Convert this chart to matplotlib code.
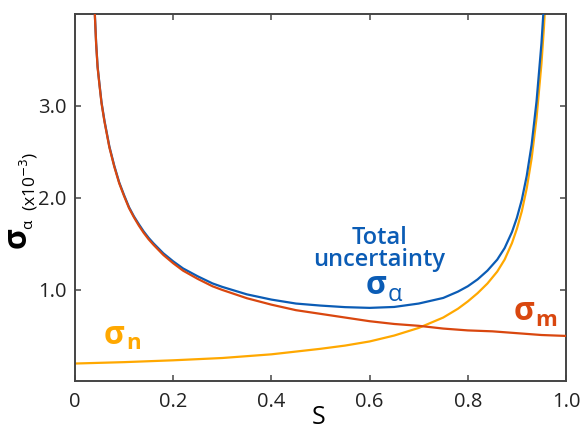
import matplotlib
matplotlib.use('Agg')
import matplotlib.pyplot as plt

plt.rcParams['font.family'] = ['Open Sans', 'DejaVu Sans']

# values (S, sigma in units of 1e-3)
s_m = [0.039, 0.041, 0.043, 0.046, 0.050, 0.054, 0.060, 0.070, 0.080, 0.090,
       0.100, 0.110, 0.120, 0.130, 0.140, 0.150, 0.160, 0.180, 0.200, 0.220,
       0.250, 0.280, 0.300, 0.350, 0.400, 0.450, 0.500, 0.550, 0.600, 0.650,
       0.700, 0.750, 0.800, 0.850, 0.900, 0.950, 1.000]
sig_m = [4.15, 3.92, 3.68, 3.42, 3.22, 3.03, 2.83, 2.55, 2.34, 2.16,
         2.02, 1.89, 1.79, 1.70, 1.62, 1.55, 1.49, 1.38, 1.29, 1.21,
         1.12, 1.04, 1.00, 0.91, 0.84, 0.78, 0.74, 0.70, 0.66, 0.63,
         0.61, 0.58, 0.56, 0.55, 0.53, 0.51, 0.50]

s_n = [0.00, 0.10, 0.20, 0.30, 0.40, 0.50, 0.55, 0.60, 0.65, 0.70,
       0.75, 0.78, 0.80, 0.82, 0.84, 0.86, 0.875, 0.89, 0.90, 0.91,
       0.92, 0.93, 0.94, 0.95, 0.955, 0.96]
sig_n = [0.20, 0.215, 0.235, 0.26, 0.30, 0.36, 0.395, 0.44, 0.504, 0.587,
         0.70, 0.796, 0.875, 0.965, 1.07, 1.20, 1.33, 1.51, 1.665, 1.855,
         2.105, 2.43, 2.87, 3.46, 3.85, 4.33]

s_tot = [0.039, 0.041, 0.043, 0.046, 0.050, 0.054, 0.060, 0.070, 0.080, 0.090,
         0.100, 0.110, 0.120, 0.130, 0.140, 0.150, 0.160, 0.180, 0.200, 0.220,
         0.250, 0.280, 0.300, 0.350, 0.400, 0.450, 0.500, 0.550, 0.600, 0.650,
         0.700, 0.750, 0.780, 0.800, 0.820, 0.840, 0.860, 0.875, 0.890, 0.900,
         0.910, 0.920, 0.930, 0.940, 0.950, 0.955]
sig_tot = [4.16, 3.93, 3.69, 3.43, 3.23, 3.04, 2.84, 2.56, 2.35, 2.17,
           2.03, 1.90, 1.80, 1.715, 1.635, 1.566, 1.506, 1.398, 1.311, 1.234,
           1.148, 1.071, 1.033, 0.952, 0.895, 0.852, 0.830, 0.813, 0.805, 0.815,
           0.852, 0.913, 0.982, 1.04, 1.115, 1.21, 1.33, 1.455, 1.63, 1.785,
           1.98, 2.24, 2.58, 3.05, 3.68, 4.10]

xticks = [0, 0.2, 0.4, 0.6, 0.8, 1.0]
xlabels = ['0', '0.2', '0.4', '0.6', '0.8', '1.0']
yticks = [1.0, 2.0, 3.0]
ylabels = ['1.0', '2.0', '3.0']

blue = '#0b5cb5'
red = '#d9470f'
yellow = '#ffa800'

fig = plt.figure(figsize=(5.8, 4.26), dpi=100)
ax = fig.add_axes([75/580, 1-381/426, 491/580, 367/426])

ax.plot(s_tot, sig_tot, color=blue, lw=1.6, zorder=3)
ax.plot(s_m, sig_m, color=red, lw=1.6, zorder=4)
ax.plot(s_n, sig_n, color=yellow, lw=1.6, zorder=2)

ax.set_xlim(0, 1.0)
ax.set_ylim(0.01, 4.0)
ax.set_xticks(xticks)
ax.set_xticklabels(xlabels)
ax.set_yticks(yticks)
ax.set_yticklabels(ylabels)
ax.tick_params(direction='in', length=4, width=1.2, color='#555555',
               labelsize=14.5, top=True, right=True, labelcolor='#222222')
ax.tick_params(axis='x', pad=8)
ax.tick_params(axis='y', pad=6)
for sp in ax.spines.values():
    sp.set_color('#444444')
    sp.set_linewidth(1.4)

# curve labels
ax.text(0.080, 0.50, 'σ', color=yellow, fontsize=23, fontweight='bold',
        ha='center', va='center')
ax.text(0.120, 0.42, 'n', color=yellow, fontsize=16, fontweight='bold',
        ha='center', va='center')
ax.text(0.914, 0.77, 'σ', color=red, fontsize=23, fontweight='bold',
        ha='center', va='center')
ax.text(0.960, 0.663, 'm', color=red, fontsize=16, fontweight='bold',
        ha='center', va='center')
ax.text(0.62, 1.50, 'Total', color=blue, fontsize=17, fontweight='semibold',
        ha='center', va='baseline')
ax.text(0.62, 1.265, 'uncertainty', color=blue, fontsize=17, fontweight='semibold',
        ha='center', va='baseline')
ax.text(0.613, 1.045, 'σ', color=blue, fontsize=23, fontweight='bold',
        ha='center', va='center')
ax.text(0.651, 0.945, 'α', color=blue, fontsize=17,
        ha='center', va='center')

# axis labels
fig.text(319/580, 1.5/426, 'S', fontsize=18, ha='center', va='baseline')
fig.text(17/580, 1-238/426, 'σ', fontsize=23, fontweight='bold',
         rotation=90, ha='center', va='center')
fig.text(29/580, 1-224/426, 'α', fontsize=11, rotation=90,
         ha='center', va='center')
fig.text(28.5/580, 1-181/426, r'(x10$^{-3}$)', fontsize=12.5, rotation=90,
         ha='center', va='center')

plt.savefig('out.png', dpi=100)
